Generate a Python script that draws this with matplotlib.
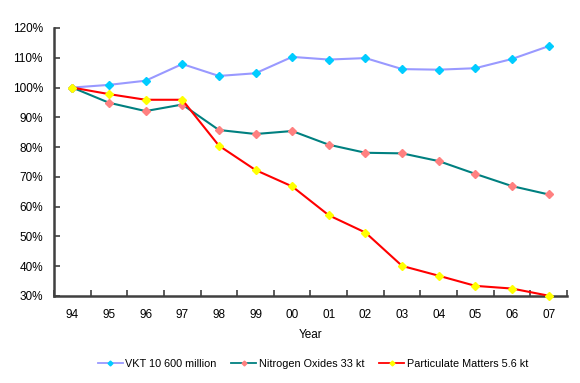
import matplotlib
matplotlib.use("Agg")
import matplotlib.pyplot as plt
from matplotlib.ticker import FixedLocator, PercentFormatter

plt.rcParams['font.family'] = ['Liberation Sans', 'DejaVu Sans']

years = ["94", "95", "96", "97", "98", "99", "00", "01", "02", "03", "04", "05", "06", "07"]
vkt = [100, 100.9, 102.3, 107.9, 103.9, 104.8, 110.3, 109.4, 109.9, 106.2, 106.0, 106.5, 109.6, 113.9]
nox = [100, 94.9, 92.1, 94.3, 85.75, 84.4, 85.4, 80.8, 78.1, 77.9, 75.3, 71.0, 66.9, 64.1]
pm = [100, 97.8, 95.9, 95.9, 80.5, 72.3, 66.8, 57.1, 51.3, 40.1, 36.8, 33.4, 32.5, 30.1]
labels = ["VKT 10 600 million", "Nitrogen Oxides 33 kt", "Particulate Matters 5.6 kt"]

fig = plt.figure(figsize=(5.8, 3.83), dpi=100)
ax = fig.add_axes([54/580, 1-296/383, (567-54)/580, (296-28)/383])
x = list(range(len(years)))

ax.plot(x, vkt, color="#9999FF", lw=1.5, marker="D", ms=4.5, mfc="#00CCFF", mec="#00CCFF", label=labels[0], clip_on=False, zorder=3)
ax.plot(x, nox, color="#008080", lw=1.5, marker="D", ms=4.5, mfc="#FF8080", mec="#FF8080", label=labels[1], clip_on=False, zorder=3)
ax.plot(x, pm, color="#FF0000", lw=1.5, marker="D", ms=4.5, mfc="#FFFF00", mec="#FFFF00", label=labels[2], clip_on=False, zorder=4)

ax.set_xlim(-0.5, len(years) - 0.5)
ax.set_ylim(30, 120)
ax.set_yticks(range(30, 121, 10))
ax.yaxis.set_major_formatter(PercentFormatter(decimals=0))
ax.set_xticks(x)
ax.set_xticklabels(years)
ax.xaxis.set_minor_locator(FixedLocator([i - 0.5 for i in range(len(years) + 1)]))
ax.tick_params(axis="x", which="major", length=0, pad=9, labelsize=8.5)
ax.tick_params(axis="x", which="minor", length=4, width=1.2, direction="in", color="#404040")
ax.tick_params(axis="y", which="major", length=4, width=1.2, direction="in", color="#404040", labelsize=8.5, pad=8)

for s in ["top", "right"]:
    ax.spines[s].set_visible(False)
for s in ["left", "bottom"]:
    ax.spines[s].set_color("#404040")
    ax.spines[s].set_linewidth(1.8)

ax.set_xlabel("Year", fontsize=8.5, labelpad=6)

leg = fig.legend(loc="center", bbox_to_anchor=(313/580, 1-364/383), ncol=3, frameon=False,
                 fontsize=7.8, markerscale=0.55, handlelength=2.3, columnspacing=1.35, handletextpad=0.25)
for h in leg.get_lines():
    h.set_linewidth(1.3)

fig.savefig("out.png", dpi=100)
